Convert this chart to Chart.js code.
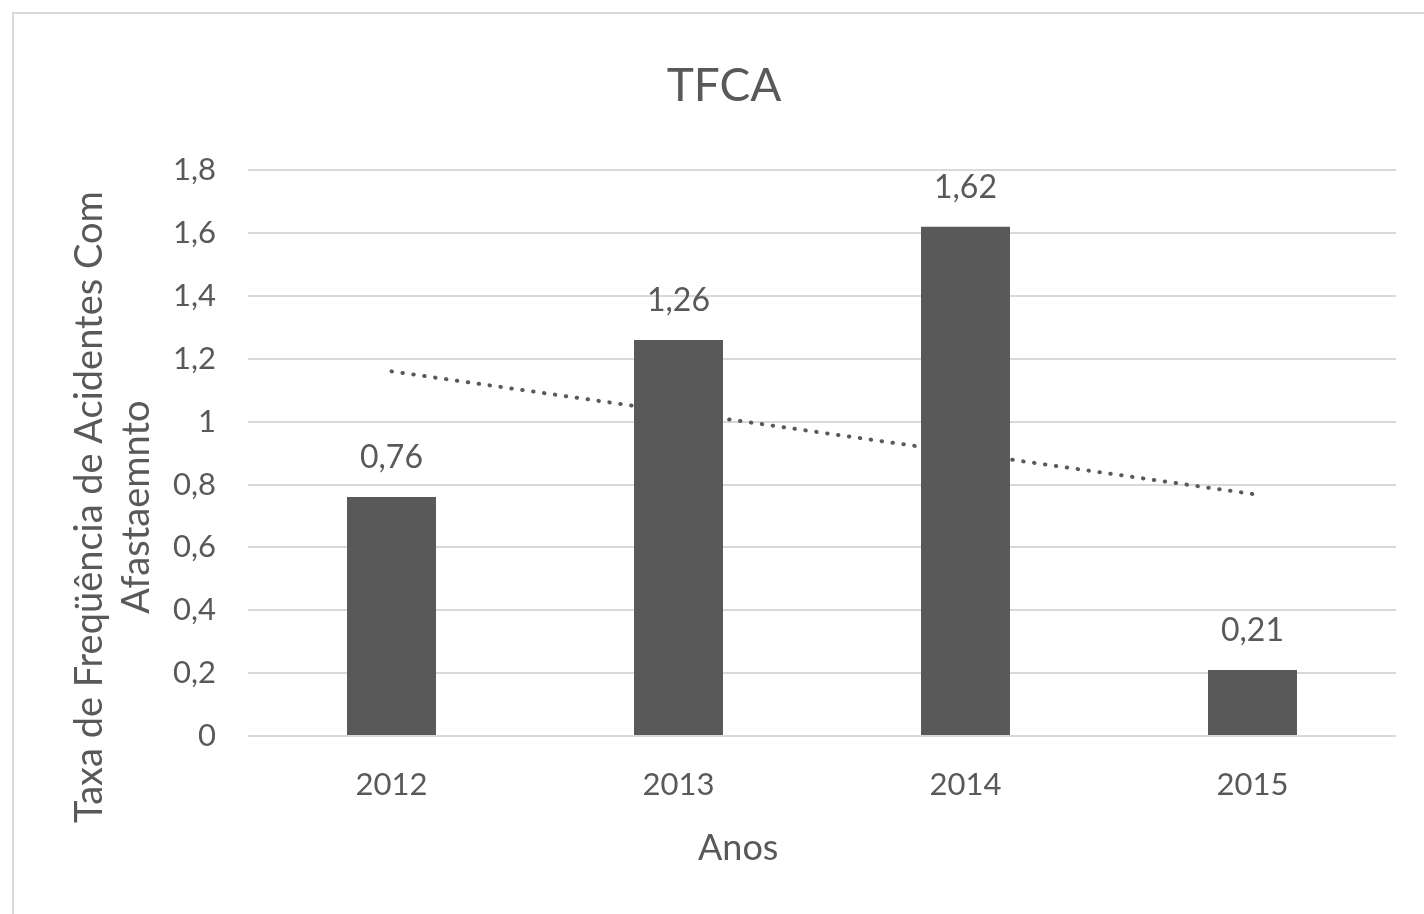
<!DOCTYPE html>
<html>
<head>
<meta charset="utf-8">
<script src="https://cdn.jsdelivr.net/npm/chart.js@4.4.1/dist/chart.umd.min.js"></script>
<style>
    html, body { margin: 0; padding: 0; background: #fff; overflow: hidden; }
    #wrap { position: relative; width: 1424px; height: 914px; }
    #frame { position: absolute; left: 12px; top: 12px; width: 1500px; height: 1000px;
             border: 2px solid #d9d9d9; box-sizing: border-box; }
    #c { position: absolute; left: 0; top: 0; }
</style>
</head>
<body>
<div id="wrap">
    <div id="frame"></div>
    <canvas id="c" width="1424" height="914"></canvas>
</div>
<script>
// ============ Data ============
const years = ['2012', '2013', '2014', '2015'];
const tfca = [0.76, 1.26, 1.62, 0.21];
const trendLine = [1.16, 1.03, 0.90, 0.77];   // linear trendline
const yMin = 0, yMax = 1.8, yStep = 0.2;

const chartTitle = 'TFCA';
const yTitle = ['Taxa de Freqüência de Acidentes Com', 'Afastaemnto'];
const xTitle = 'Anos';

// ============ Helpers ============
const TEXT = '#595959';
const FONT = 'Lato, "Open Sans", sans-serif';
const PAD_LEFT = 52;
const fmt = v => String(Math.round(v * 100) / 100).replace('.', ',');

// value labels above each bar
const barLabels = {
    id: 'barLabels',
    afterDatasetsDraw(chart) {
        const ctx = chart.ctx;
        const meta = chart.getDatasetMeta(0);
        ctx.save();
        ctx.font = '32px ' + FONT;
        ctx.fillStyle = TEXT;
        ctx.textAlign = 'center';
        ctx.textBaseline = 'alphabetic';
        meta.data.forEach((bar, i) => ctx.fillText(fmt(tfca[i]), bar.x, bar.y - 29));
        ctx.restore();
    }
};

// axis titles, placed like the Excel original
const axisTitles = {
    id: 'axisTitles',
    afterDraw(chart) {
        const { ctx, chartArea: a } = chart;
        ctx.save();
        ctx.fillStyle = TEXT;
        ctx.textAlign = 'center';
        ctx.textBaseline = 'middle';
        ctx.font = '36px ' + FONT;
        ctx.fillText(xTitle, a.left + (a.right - a.left) * 0.427, a.bottom + 112);
        ctx.font = '38px ' + FONT;
        const cy = (a.top + a.bottom) / 2 + 54;
        yTitle.forEach((line, i) => {
            ctx.save();
            ctx.translate(a.left - 158 + i * 47, cy);
            ctx.rotate(-Math.PI / 2);
            ctx.fillText(line, 0, 0);
            ctx.restore();
        });
        ctx.restore();
    }
};

// ============ Chart ============
new Chart(document.getElementById('c'), {
    type: 'bar',
    data: {
        labels: years,
        datasets: [{
            type: 'bar',
            data: tfca,
            backgroundColor: '#595959',
            barPercentage: 0.31,
            categoryPercentage: 1,
            order: 1
        }, {
            type: 'line',
            data: trendLine,
            borderColor: '#595959',
            borderWidth: 4,
            borderDash: [0.5, 10.5],
            borderCapStyle: 'round',
            pointRadius: 0,
            fill: false,
            tension: 0,
            order: 2
        }]
    },
    options: {
        responsive: false,
        animation: false,
        devicePixelRatio: 1,
        layout: { padding: { left: PAD_LEFT, right: 28, top: 0, bottom: 0 } },
        plugins: {
            legend: { display: false },
            tooltip: { enabled: false },
            title: {
                display: true,
                text: chartTitle,
                color: TEXT,
                font: { family: FONT, size: 46, weight: 'normal' },
                padding: { top: 59, bottom: 56 }
            }
        },
        scales: {
            x: {
                grid: { display: false, drawTicks: false },
                border: { display: false },
                ticks: { color: TEXT, font: { family: FONT, size: 31 }, padding: 30 },
                afterFit(scale) { scale.height = 914 - 736; }
            },
            y: {
                min: yMin,
                max: yMax,
                grid: { color: '#d9d9d9', lineWidth: 2, drawTicks: false },
                border: { display: false },
                ticks: {
                    stepSize: yStep,
                    color: TEXT,
                    font: { family: FONT, size: 31 },
                    padding: 32,
                    callback: v => fmt(v)
                },
                afterFit(scale) { scale.width = 248 - PAD_LEFT; }
            }
        }
    },
    plugins: [barLabels, axisTitles]
});
</script>
</body>
</html>
